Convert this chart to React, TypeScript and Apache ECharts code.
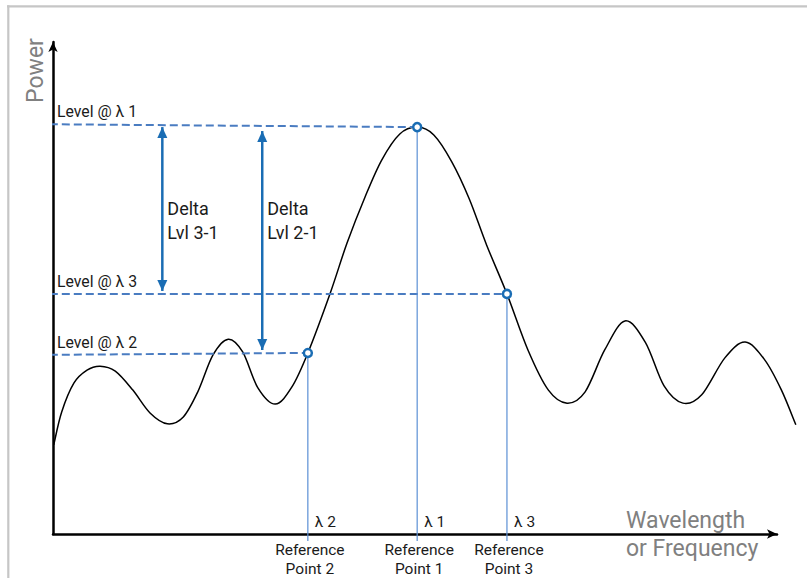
import React, { useEffect, useRef } from "react";
import * as echarts from "echarts";

// Spectrum curve (x: wavelength units 0..100, y: power units 0..100)
const curveX = [0.1, 1.2, 2.9, 4.7, 6.5, 8.6, 11.0, 13.4, 15.8, 18.0, 20.0, 22.1, 24.2, 26.2, 28.3, 30.7, 33.0, 35.2, 38.3, 40.6, 43.1, 45.4, 47.9, 50.3, 52.6, 55.1, 57.5, 59.9, 62.7, 65.6, 68.4, 71.0, 73.5, 76.2, 79.0, 81.8, 84.4, 87.0, 89.6, 92.8, 95.6, 98.3, 100.6, 102.6];
const curveY = [18.1, 24.8, 30.7, 33.3, 34.1, 33.1, 29.3, 24.6, 22.4, 23.8, 28.9, 36.4, 39.6, 37.0, 29.7, 26.4, 29.9, 36.8, 49.0, 59.1, 68.5, 76.0, 81.3, 82.7, 81.1, 75.6, 68.1, 58.7, 48.8, 37.4, 29.3, 26.6, 28.9, 37.4, 43.3, 39.0, 30.1, 26.6, 28.3, 35.8, 39.0, 35.4, 29.3, 22.2];

// Reference points: λ1, λ2, λ3
const refNames = ["λ 1", "λ 2", "λ 3"];
const refX = [50.3, 35.2, 62.7];
const refY = [82.7, 36.8, 48.8];
// Dashed level lines start (left of the y axis)
const levelStartX = -2.1;
const levelStartY = [83.3, 36.4, 48.8];
const levelLabels = ["Level @ λ 1", "Level @ λ 2", "Level @ λ 3"];
// Vertical drop lines end just below the x axis
const dropBottomY = -1.4;
// Delta arrows
const deltaLabels = ["Delta\nLvl 3-1", "Delta\nLvl 2-1"];
const deltaX = [15.1, 28.9];
const deltaTop = [82.7, 81.9];
const deltaBottom = [49.4, 37.4];
const refPointLabels = ["Reference\nPoint 1", "Reference\nPoint 2", "Reference\nPoint 3"];

const FONT = "Roboto, 'Noto Sans', sans-serif";
const DARK = "#1b1b1b";
const GRAY = "#808080";
const DASH_BLUE = "#4a7cc1";
const THIN_BLUE = "#5b8fd5";
const ARROW_BLUE = "#1a6db4";

function splinePath(pts: number[][]): string {
  // Catmull-Rom through the points, written as cubic Bezier segments
  let d = `M${pts[0][0]},${pts[0][1]}`;
  for (let i = 0; i < pts.length - 1; i++) {
    const p0 = pts[Math.max(0, i - 1)];
    const p1 = pts[i];
    const p2 = pts[i + 1];
    const p3 = pts[Math.min(pts.length - 1, i + 2)];
    const c1x = p1[0] + (p2[0] - p0[0]) / 6;
    const c1y = p1[1] + (p2[1] - p0[1]) / 6;
    const c2x = p2[0] - (p3[0] - p1[0]) / 6;
    const c2y = p2[1] - (p3[1] - p1[1]) / 6;
    d += ` C${c1x},${c1y} ${c2x},${c2y} ${p2[0]},${p2[1]}`;
  }
  return d;
}

export default function App() {
  const ref = useRef<HTMLDivElement>(null);
  useEffect(() => {
    if (!ref.current) return;
    const chart = echarts.init(ref.current, undefined, { renderer: "svg" });

    const levelSeries = refX.map((x, i) => ({
      type: "line",
      data: [[levelStartX, levelStartY[i]], [x, refY[i]]],
      symbol: "none",
      clip: false,
      silent: true,
      z: 3,
      lineStyle: { color: DASH_BLUE, width: 2, type: [8, 4] },
    }));
    const dropSeries = refX.map((x, i) => ({
      type: "line",
      data: [[x, refY[i]], [x, dropBottomY]],
      symbol: "none",
      clip: false,
      silent: true,
      z: 3,
      lineStyle: { color: THIN_BLUE, width: 1.2 },
    }));
    const arrowSeries = deltaX.map((x, i) => ({
      type: "line",
      data: [
        { value: [x, deltaTop[i]], symbol: "triangle", symbolSize: [10, 11], symbolRotate: 0, symbolOffset: [0, 5.5] },
        { value: [x, deltaBottom[i]], symbol: "triangle", symbolSize: [10, 11], symbolRotate: 180, symbolOffset: [0, -5.5] },
      ],
      showSymbol: true,
      clip: false,
      silent: true,
      z: 4,
      itemStyle: { color: ARROW_BLUE, opacity: 1 },
      lineStyle: { color: ARROW_BLUE, width: 2.5 },
    }));

    const toPx = (x: number, y: number) => [53 + (x / 100) * 724, 534 - (y / 100) * 492];

    const texts: any[] = [];
    levelLabels.forEach((t, i) => {
      const [, py] = toPx(0, levelStartY[i]);
      texts.push({
        type: "text", x: 57, y: py - 12.5,
        style: { text: t, fontSize: 15.8, fontFamily: FONT, fill: DARK, align: "left", verticalAlign: "middle", textAlign: "left", textVerticalAlign: "middle" },
      });
    });
    deltaLabels.forEach((t, i) => {
      const [px] = toPx(deltaX[i], 0);
      texts.push({
        type: "text", x: px + 5, y: 220,
        style: { text: t, fontSize: 18, lineHeight: 24, fontFamily: FONT, fill: DARK, align: "left", verticalAlign: "middle", textAlign: "left", textVerticalAlign: "middle" },
      });
    });
    refX.forEach((x, i) => {
      const [px] = toPx(x, 0);
      texts.push({
        type: "text", x: px + 7, y: 522,
        style: { text: refNames[i], fontSize: 15.5, fontFamily: FONT, fill: DARK, align: "left", verticalAlign: "middle", textAlign: "left", textVerticalAlign: "middle" },
      });
      texts.push({
        type: "text", x: px + 2, y: 559.5,
        style: { text: refPointLabels[i], fontSize: 15.5, lineHeight: 19, fontFamily: FONT, fill: DARK, align: "center", verticalAlign: "middle", textAlign: "center", textVerticalAlign: "middle" },
      });
    });
    texts.push({
      type: "text", x: 626, y: 534,
      style: { text: "Wavelength\nor Frequency", fontSize: 23, lineHeight: 28, fontFamily: FONT, fill: GRAY, align: "left", verticalAlign: "middle", textAlign: "left", textVerticalAlign: "middle" },
    });
    texts.push({
      type: "text", x: 35, y: 70.5, rotation: Math.PI / 2,
      style: { text: "Power", fontSize: 23, fontFamily: FONT, fill: GRAY, align: "center", verticalAlign: "middle", textAlign: "center", textVerticalAlign: "middle" },
    });
    texts.push({ type: "line", shape: { x1: 7, y1: 6.3, x2: 807, y2: 6.3 }, style: { stroke: "#c6c6c6", lineWidth: 2.2 } });
    texts.push({ type: "line", shape: { x1: 8.3, y1: 5.3, x2: 8.3, y2: 578 }, style: { stroke: "#c6c6c6", lineWidth: 2.2 } });

    chart.setOption({
      animation: false,
      backgroundColor: "#ffffff",
      grid: { left: 53, right: 30, top: 42, bottom: 44, containLabel: false, outerBoundsMode: "none" },
      xAxis: {
        type: "value", min: 0, max: 100,
        axisLine: { show: true, onZero: false, symbol: ["none", "arrow"], symbolSize: [7, 10], lineStyle: { color: "#000", width: 2.5 } },
        axisTick: { show: false }, axisLabel: { show: false }, splitLine: { show: false },
      },
      yAxis: {
        type: "value", min: 0, max: 100,
        axisLine: { show: true, onZero: false, symbol: ["none", "arrow"], symbolSize: [7, 10], lineStyle: { color: "#000", width: 2.5 } },
        axisTick: { show: false }, axisLabel: { show: false }, splitLine: { show: false },
      },
      graphic: texts,
      series: [
        {
          type: "custom",
          data: curveX.map((x, i) => [x, curveY[i]]),
          clip: false,
          silent: true,
          z: 2,
          renderItem: (params: any, api: any) => {
            if (params.dataIndex !== 0) return null;
            const pts = curveX.map((x, i) => api.coord([x, curveY[i]]));
            return {
              type: "path",
              shape: { pathData: splinePath(pts) },
              style: { stroke: "#000", lineWidth: 1.5, fill: "none" },
            };
          },
        },
        ...levelSeries,
        ...dropSeries,
        ...arrowSeries,
        {
          type: "scatter",
          data: refX.map((x, i) => [x, refY[i]]),
          symbol: "circle",
          symbolSize: 8,
          clip: false,
          silent: true,
          z: 6,
          itemStyle: { color: "#ffffff", borderColor: ARROW_BLUE, borderWidth: 2.5, opacity: 1 },
        },
      ],
    });
    return () => chart.dispose();
  }, []);
  return <div ref={ref} style={{ position: "fixed", left: 0, top: 0, width: 807, height: 578 }} />;
}
